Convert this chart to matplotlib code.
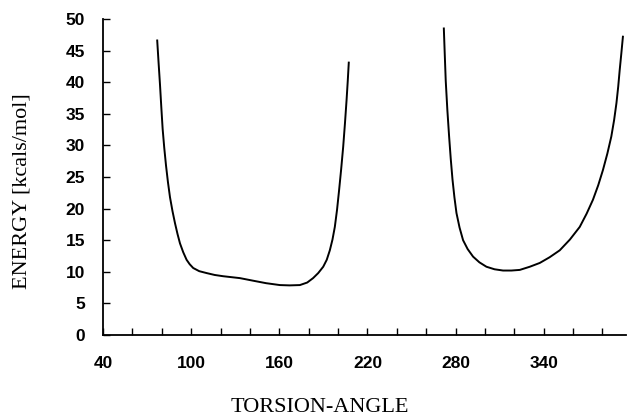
import matplotlib
matplotlib.use("Agg")
import matplotlib.pyplot as plt

# Curve 1 (left well)
x1 = [76.9, 77.8, 78.8, 79.7, 80.6, 81.7, 82.9, 84.2, 85.6, 87.3, 89.0, 90.7, 92.4,
      94.6, 96.9, 99.0, 101.4, 105.5, 110.5, 116.0, 121.8, 127.5, 133.2, 142.0,
      151.0, 160.4, 167.0, 174.0, 179.0, 183.0, 186.5, 189.9, 192.3, 194.4,
      196.2, 197.8, 199.3, 200.7, 202.1, 203.5, 204.7, 205.8, 206.6, 207.3]
y1 = [46.6, 43.2, 39.6, 36.0, 32.6, 29.6, 26.8, 24.2, 21.8, 19.6, 17.7, 16.0, 14.5,
      13.1, 11.9, 11.2, 10.6, 10.1, 9.8, 9.5, 9.3, 9.15, 9.0, 8.6,
      8.2, 7.9, 7.85, 7.9, 8.3, 9.0, 9.8, 10.8, 11.9, 13.4,
      15.1, 17.1, 19.8, 22.9, 26.2, 29.8, 33.5, 37.2, 40.2, 43.1]

# Curve 2 (right well)
x2 = [272.0, 272.6, 273.3, 274.4, 275.6, 276.7, 277.9, 279.2, 280.6, 282.7, 285.1,
      288.2, 291.9, 296.2, 301.0, 306.5, 312.3, 318.0, 323.7, 330.5, 337.3,
      344.0, 350.9, 357.8, 364.5, 369.2, 373.5, 377.1, 380.3, 383.3, 386.0,
      387.9, 389.5, 390.7, 391.7, 392.8, 393.9]
y2 = [48.5, 44.6, 40.2, 35.6, 31.4, 27.9, 24.6, 21.8, 19.3, 17.0, 15.0,
      13.6, 12.4, 11.5, 10.8, 10.4, 10.2, 10.2, 10.3, 10.8, 11.4,
      12.3, 13.4, 15.1, 17.1, 19.2, 21.4, 23.7, 26.1, 28.7, 31.4,
      34.0, 36.7, 39.3, 41.9, 44.5, 47.2]

x_ticks = [40, 100, 160, 220, 280, 340]
y_ticks = [0, 5, 10, 15, 20, 25, 30, 35, 40, 45, 50]

fig = plt.figure(figsize=(6.28, 4.17), dpi=100)
ax = fig.add_axes([103 / 628, 1 - 335 / 417, (626 - 103) / 628, (335 - 19) / 417])

ax.plot(x1, y1, color="black", lw=1.4, solid_joinstyle="round")
ax.plot(x2, y2, color="black", lw=1.4, solid_joinstyle="round")

ax.set_xlim(40, 396)
ax.set_ylim(0, 50)
for s in ["top", "right"]:
    ax.spines[s].set_visible(False)
ax.spines["left"].set_linewidth(1.3)
ax.spines["bottom"].set_linewidth(1.3)

ax.set_xticks(x_ticks)
ax.set_xticks(list(range(40, 400, 20)), minor=True)
ax.set_yticks(y_ticks)
ax.tick_params(axis="both", which="both", direction="in", width=1.0)
ax.tick_params(axis="x", which="major", length=5, pad=15)
ax.tick_params(axis="x", which="minor", length=5)
ax.tick_params(axis="y", which="major", length=5, pad=13)

tick_font = {"family": "Liberation Sans", "weight": "bold", "size": 12.5}
ax.set_xticklabels([str(v) for v in x_ticks], fontdict=tick_font)
ax.set_yticklabels([str(v) for v in y_ticks], fontdict=tick_font)

fig.text(320 / 628, 1 - 407 / 417, "TORSION-ANGLE", ha="center", va="center",
         family="Liberation Serif", fontsize=16)
fig.text(22 / 628, 1 - 191 / 417, "ENERGY [kcals/mol]", ha="center", va="center",
         rotation=90, family="Liberation Serif", fontsize=16)

fig.savefig("out.png", dpi=100)
